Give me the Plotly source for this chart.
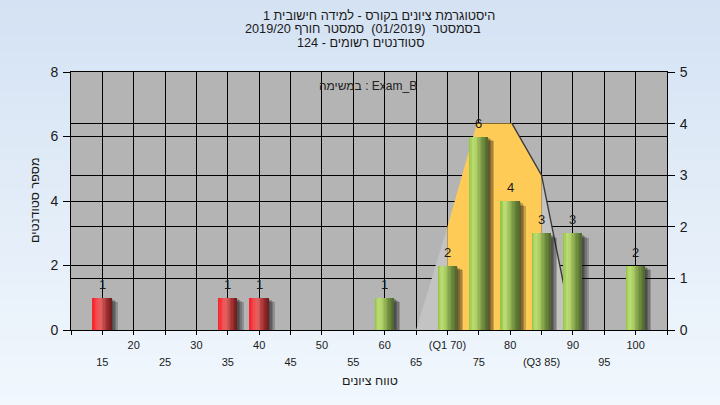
import plotly.graph_objects as go

# ---------------- data ----------------
grades = [15, 35, 40, 60, 70, 75, 80, 85, 90, 100]
counts = [1, 1, 1, 1, 2, 6, 4, 3, 3, 2]
pass_mark = 55
q1 = 70
q3 = 85
curve_x = [65, 70, 74.7, 80.3, 85, 90]
curve_y = [0, 2, 4, 4, 3, 0]

upper_ticks = [20, 30, 40, 50, 60, 70, 80, 90, 100]
upper_labels = ["20", "30", "40", "50", "60", "(Q1 70)", "80", "90", "100"]
lower_ticks = [15, 25, 35, 45, 55, 65, 75, 85, 95]
lower_labels = ["15", "25", "35", "45", "55", "65", "75", "(Q3 85)", "95"]
all_ticks = list(range(10, 106, 5))

title_lines = [
    "היסטוגרמת ציונים בקורס - למידה חישובית 1",
    "בסמסטר  (01/2019)  סמסטר חורף 2019/20",
    "סטודנטים רשומים - 124",
]
y_title = "מספר סטודנטים"
x_title = "טווח ציונים"
exam_label = "במשימה : Exam_B"

# ---------------- style ----------------
FONT = "Liberation Sans, Arial, DejaVu Sans, sans-serif"
TXT = "#1a1a1a"
BAR_W = 3.0
N_SLICES = 14
GREEN_STOPS = [(0.0, (145, 195, 60)), (0.22, (190, 222, 120)), (0.4, (172, 204, 100)),
               (0.7, (118, 148, 66)), (1.0, (78, 102, 44))]
RED_STOPS = [(0.0, (248, 32, 38)), (0.3, (242, 85, 88)), (0.45, (222, 98, 98)),
             (0.72, (168, 52, 52)), (1.0, (108, 28, 28))]


def interp(stops, t):
    for (p0, c0), (p1, c1) in zip(stops[:-1], stops[1:]):
        if p0 <= t <= p1:
            f = (t - p0) / (p1 - p0)
            return "rgb(%d,%d,%d)" % tuple(round(a + (b - a) * f) for a, b in zip(c0, c1))
    return "rgb(%d,%d,%d)" % stops[-1][1]


fig = go.Figure()

# ---- box/area shape on right axis (main y) ----
left_x = [x for x in curve_x if x <= q1]
left_y = [y for x, y in zip(curve_x, curve_y) if x <= q1]
mid_x = [x for x in curve_x if q1 <= x <= q3]
mid_y = [y for x, y in zip(curve_x, curve_y) if q1 <= x <= q3]
right_x = [x for x in curve_x if x >= q3]
right_y = [y for x, y in zip(curve_x, curve_y) if x >= q3]

fig.add_trace(go.Scatter(x=left_x + [q1], y=left_y + [0], fill="toself", mode="none",
                         fillcolor="#c3c3c3", yaxis="y", hoverinfo="skip", showlegend=False))
fig.add_trace(go.Scatter(x=[q3] + right_x, y=[0] + right_y, fill="toself", mode="none",
                         fillcolor="#c3c3c3", yaxis="y", hoverinfo="skip", showlegend=False))
fig.add_trace(go.Scatter(x=[q1] + mid_x + [q3], y=[0] + mid_y + [0], fill="toself", mode="none",
                         fillcolor="#ffcb57", yaxis="y", hoverinfo="skip", showlegend=False))
peak = max(curve_y)
last_peak = max(i for i, v in enumerate(curve_y) if v == peak)
fig.add_trace(go.Scatter(x=curve_x[last_peak:], y=curve_y[last_peak:], mode="lines",
                         line=dict(color="#3c3c3c", width=1.4), yaxis="y",
                         hoverinfo="skip", showlegend=False))
# invisible carrier so the second (lower-row) tick axis is drawn
fig.add_trace(go.Scatter(x=lower_ticks, y=[0] * len(lower_ticks), mode="markers",
                         marker=dict(opacity=0), xaxis="x3", yaxis="y",
                         hoverinfo="skip", showlegend=False))

# ---- bar shadows (left axis y2) ----
for k, s in enumerate([0.25, 0.5, 0.75, 1.0]):
    drop = 0.04 + 0.035 * k
    fig.add_trace(go.Bar(x=grades, y=[c - drop for c in counts], width=BAR_W,
                         offset=-BAR_W / 2 + s, marker=dict(color="rgba(20,20,20,0.22)", line_width=0),
                         yaxis="y2", hoverinfo="skip", showlegend=False))

# ---- bars as gradient slices ----
groups = [
    ([g for g in grades if g < pass_mark], [c for g, c in zip(grades, counts) if g < pass_mark], RED_STOPS),
    ([g for g in grades if g >= pass_mark], [c for g, c in zip(grades, counts) if g >= pass_mark], GREEN_STOPS),
]
sw = BAR_W / N_SLICES
for gx, gy, stops in groups:
    for i in range(N_SLICES):
        t = (i + 0.5) / N_SLICES
        fig.add_trace(go.Bar(x=gx, y=gy, width=sw * 1.08, offset=-BAR_W / 2 + i * sw,
                             marker=dict(color=interp(stops, t), line_width=0),
                             yaxis="y2", hoverinfo="skip", showlegend=False))

# ---- labels above bars ----
annotations = []
for g, c in zip(grades, counts):
    annotations.append(dict(x=g, y=c, xref="x", yref="y2", text=str(c), showarrow=False,
                            yanchor="bottom", yshift=4, font=dict(size=13, color=TXT, family=FONT)))

L, R, T, B = 71, 53, 72, 75
PW, PH = 720 - L - R, 405 - T - B


def px_x(px):
    return (px - L) / PW


def px_y(py):
    return (T + PH - py) / PH


# titles: (centre x px, centre y px)
title_pos = [(379, 16), (363, 29.5), (360, 43)]
for line, (px, py) in zip(title_lines, title_pos):
    annotations.append(dict(x=px_x(px), y=px_y(py), xref="paper", yref="paper",
                            text=line, showarrow=False, xanchor="center", yanchor="middle",
                            font=dict(size=12.7, color=TXT, family=FONT)))
annotations.append(dict(x=px_x(367.5), y=px_y(86), xref="paper", yref="paper",
                        text=exam_label, showarrow=False, xanchor="center", yanchor="middle",
                        font=dict(size=12, color="#222", family=FONT)))
annotations.append(dict(x=px_x(369.5), y=px_y(381), xref="paper", yref="paper",
                        text=x_title, showarrow=False, xanchor="center",
                        yanchor="middle", font=dict(size=12.5, color=TXT, family=FONT)))
annotations.append(dict(x=px_x(35), y=0.5, xref="paper", yref="paper", textangle=-90,
                        text=y_title, showarrow=False, xanchor="center", yanchor="middle",
                        font=dict(size=12.5, color=TXT, family=FONT)))

# background gradient bands + plot area
shapes = []
NB = 30
top_c, bot_c = (212, 226, 243), (241, 247, 253)
y_lo, y_hi = -B / PH - 0.02, 1 + T / PH + 0.02
for i in range(NB):
    f = i / (NB - 1)
    col = tuple(round(a + (b - a) * f) for a, b in zip(top_c, bot_c))
    y1 = y_hi - (y_hi - y_lo) * i / NB
    y0 = y_hi - (y_hi - y_lo) * (i + 1) / NB - 0.005
    shapes.append(dict(type="rect", xref="paper", yref="paper", x0=-0.2, x1=1.2, y0=y0, y1=y1,
                       fillcolor="rgb(%d,%d,%d)" % col, line_width=0, layer="below"))
shapes.append(dict(type="rect", xref="paper", yref="paper", x0=0, x1=1, y0=0, y1=1,
                   fillcolor="#b4b4b4", line_width=0, layer="below"))

fig.update_layout(
    width=720, height=405,
    margin=dict(l=L, r=R, t=T, b=B, autoexpand=False),
    paper_bgcolor="#e4eef9",
    plot_bgcolor="#b4b4b4",
    barmode="overlay",
    bargap=0,
    showlegend=False,
    font=dict(family=FONT, color=TXT),
    annotations=annotations,
    shapes=shapes,
    xaxis=dict(range=[10, 105], tickvals=all_ticks,
               ticktext=[upper_labels[upper_ticks.index(v)] if v in upper_ticks else "" for v in all_ticks],
               ticks="outside", ticklen=4, tickcolor="black", showline=True, linecolor="black",
               mirror=True, showgrid=True, gridcolor="black", gridwidth=1, zeroline=False,
               tickfont=dict(size=11, color=TXT), ticklabelstandoff=1, automargin=False),
    xaxis3=dict(range=[10, 105], overlaying="x", anchor="y", side="bottom",
                tickvals=lower_ticks, ticktext=lower_labels, ticks="", showgrid=False,
                showline=False, zeroline=False, tickfont=dict(size=11, color=TXT),
                ticklabelstandoff=24, automargin=False),
    yaxis=dict(range=[0, 5], dtick=1, side="right", ticks="outside", ticklen=7, tickcolor="black",
               showline=True, linecolor="black", showgrid=True, gridcolor="black", gridwidth=1,
               zeroline=False, tickfont=dict(size=14, color=TXT), ticklabelstandoff=2, automargin=False),
    yaxis2=dict(range=[0, 8], dtick=2, side="left", overlaying="y", ticks="outside", ticklen=7,
                tickcolor="black", showline=True, linecolor="black", showgrid=True, gridcolor="black",
                gridwidth=1, zeroline=False, tickfont=dict(size=14, color=TXT), ticklabelstandoff=2,
                automargin=False),
)

fig.write_html("out.html", config={"displayModeBar": False},
               post_script="document.body.style.margin='0px';")
